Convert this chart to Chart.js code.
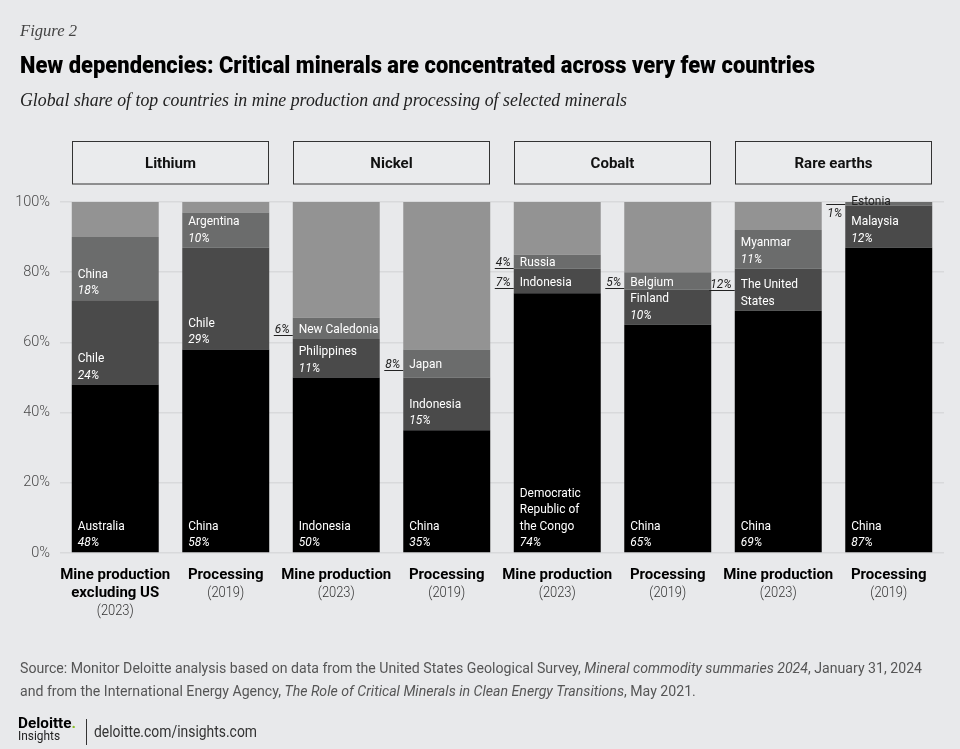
<!DOCTYPE html>
<html>
<head>
<meta charset="utf-8">
<script src="https://cdn.jsdelivr.net/npm/chart.js@4"></script>
<style>
html,body{margin:0;padding:0;background:#e8e9eb;}
canvas{display:block;}
</style>
</head>
<body>
<canvas id="c" width="960" height="749" style="width:960px;height:749px"></canvas>
<script>
// ---------- DATA ----------
const categories = [
  "Lithium mine production excluding US (2023)", "Lithium processing (2019)",
  "Nickel mine production (2023)", "Nickel processing (2019)",
  "Cobalt mine production (2023)", "Cobalt processing (2019)",
  "Rare earths mine production (2023)", "Rare earths processing (2019)"
];
const minerals = ["Lithium", "Nickel", "Cobalt", "Rare earths"];
const xLabelMain = [
  ["Mine production", "excluding US"], ["Processing"],
  ["Mine production"], ["Processing"],
  ["Mine production"], ["Processing"],
  ["Mine production"], ["Processing"]
];
const xLabelYear = ["(2023)", "(2019)", "(2023)", "(2019)", "(2023)", "(2019)", "(2023)", "(2019)"];

const top1Share  = [48, 58, 50, 35, 74, 65, 69, 87];
const top2Share  = [24, 29, 11, 15, 7, 10, 12, 12];
const top3Share  = [18, 10, 6, 8, 4, 5, 11, 1];
const otherShare = [10, 3, 33, 42, 15, 20, 8, 0];

const top1Names = ["Australia", "China", "Indonesia", "China", "Democratic\nRepublic of\nthe Congo", "China", "China", "China"];
const top2Names = ["Chile", "Chile", "Philippines", "Indonesia", "Indonesia", "Finland", "The United\nStates", "Malaysia"];
const top3Names = ["China", "Argentina", "New Caledonia", "Japan", "Russia", "Belgium", "Myanmar", "Estonia"];

const yTickValues = [0, 20, 40, 60, 80, 100];

const figureLabel = "Figure 2";
const titleText = "New dependencies: Critical minerals are concentrated across very few countries";
const subtitleText = "Global share of top countries in mine production and processing of selected minerals";
const sourceLine1 = [
  ["Source: Monitor Deloitte analysis based on data from the United States Geological Survey, ", false],
  ["Mineral commodity summaries 2024", true],
  [", January 31, 2024", false]
];
const sourceLine2 = [
  ["and from the International Energy Agency, ", false],
  ["The Role of Critical Minerals in Clean Energy Transitions", true],
  [", May 2021.", false]
];
const footerUrl = "deloitte.com/insights.com";

// ---------- STYLE ----------
const BG = '#e8e9eb';
const SANS = 'Roboto, "Liberation Sans", Arial, sans-serif';
const SERIF = '"Liberation Serif", "DejaVu Serif", serif';
const COLORS = ['#000000', '#4a4a4a', '#6b6c6c', '#939393'];

function measure(ctx, s, font) {
  ctx.save(); ctx.font = font; const w = ctx.measureText(s).width; ctx.restore(); return w;
}
function fitScale(ctx, s, font, w) { return w / measure(ctx, s, font); }
function drawText(ctx, s, x, y, font, color, align, sx) {
  ctx.save();
  ctx.font = font; ctx.fillStyle = color;
  ctx.textAlign = align || 'left'; ctx.textBaseline = 'alphabetic';
  ctx.translate(x, y); ctx.scale(sx || 1, 1);
  ctx.fillText(s, 0, 0);
  ctx.restore();
}
function runsWidth(ctx, runs, fReg, fIt) {
  return runs.reduce((a, r) => a + measure(ctx, r[0], r[1] ? fIt : fReg), 0);
}
function drawRuns(ctx, runs, x, y, fReg, fIt, color, sx) {
  let cx = x;
  runs.forEach(r => {
    const f = r[1] ? fIt : fReg;
    drawText(ctx, r[0], cx, y, f, color, 'left', sx);
    cx += measure(ctx, r[0], f) * sx;
  });
}
function hline(ctx, x1, x2, y, color) {
  ctx.save(); ctx.strokeStyle = color; ctx.lineWidth = 1;
  ctx.beginPath(); ctx.moveTo(x1, y); ctx.lineTo(x2, y); ctx.stroke(); ctx.restore();
}

const decor = {
  id: 'decor',
  beforeDraw(chart) {
    const ctx = chart.ctx;
    ctx.save(); ctx.fillStyle = BG; ctx.fillRect(0, 0, chart.width, chart.height); ctx.restore();

    const fFig = `italic 17px ${SERIF}`;
    drawText(ctx, figureLabel, 20, 36, fFig, '#444', 'left', fitScale(ctx, figureLabel, fFig, 57));
    const fTitle = `900 24px ${SANS}`;
    drawText(ctx, titleText, 20, 72.5, fTitle, '#000', 'left', fitScale(ctx, titleText, fTitle, 795));
    const fSub = `italic 18px ${SERIF}`;
    drawText(ctx, subtitleText, 20, 105.5, fSub, '#222', 'left', fitScale(ctx, subtitleText, fSub, 607));

    // Mineral header boxes spanning each pair of bars
    const meta = chart.getDatasetMeta(0);
    minerals.forEach((m, g) => {
      const a = meta.data[2 * g], b = meta.data[2 * g + 1];
      if (!a || !b) return;
      const x1 = Math.round(a.x - a.width / 2) + 0.5, x2 = Math.round(b.x + b.width / 2) - 0.5;
      ctx.save();
      ctx.fillStyle = '#eaebed';
      ctx.fillRect(x1, 141.5, x2 - x1, 42.5);
      ctx.strokeStyle = '#333'; ctx.lineWidth = 1;
      ctx.strokeRect(x1, 141.5, x2 - x1, 42.5);
      ctx.restore();
      drawText(ctx, m, (x1 + x2) / 2, 167.5, `bold 15px ${SANS}`, '#111', 'center', 1);
    });

    // Source
    const fReg = `15px ${SANS}`, fIt = `italic 15px ${SANS}`;
    const sx = 902 / runsWidth(ctx, sourceLine1, fReg, fIt);
    drawRuns(ctx, sourceLine1, 20, 673, fReg, fIt, '#555', sx);
    drawRuns(ctx, sourceLine2, 20, 696, fReg, fIt, '#555', sx);

    // Footer logo
    const fLogo = `bold 14px ${SANS}`;
    const lsx = fitScale(ctx, 'Deloitte.', fLogo, 58);
    drawText(ctx, 'Deloitte', 18, 728, fLogo, '#000', 'left', lsx);
    const dw = measure(ctx, 'Deloitte', fLogo) * lsx;
    drawText(ctx, '.', 18 + dw, 728, fLogo, '#86bc25', 'left', lsx);
    const fIns = `13px ${SANS}`;
    drawText(ctx, 'Insights', 18, 740, fIns, '#222', 'left', fitScale(ctx, 'Insights', fIns, 42));
    ctx.save(); ctx.strokeStyle = '#333'; ctx.lineWidth = 1;
    ctx.beginPath(); ctx.moveTo(86.5, 719); ctx.lineTo(86.5, 745); ctx.stroke(); ctx.restore();
    const fUrl = `17px ${SANS}`;
    drawText(ctx, footerUrl, 94, 737, fUrl, '#333', 'left', fitScale(ctx, footerUrl, fUrl, 163));
  },
  afterDatasetsDraw(chart) {
    const ctx = chart.ctx;
    const namesByDs = [top1Names, top2Names, top3Names];
    const fName = `13px ${SANS}`, fPct = `italic 13px ${SANS}`;
    const sx = fitScale(ctx, 'Australia', fName, 47);
    const LH = 16.5;
    for (let d = 0; d < 3; d++) {
      const meta = chart.getDatasetMeta(d);
      meta.data.forEach((el, i) => {
        const v = chart.data.datasets[d].data[i];
        if (!v) return;
        const lines = namesByDs[d][i].split('\n');
        const pct = v + '%';
        const left = el.x - el.width / 2;
        const top = Math.min(el.y, el.base), bot = Math.max(el.y, el.base);
        const h = bot - top;
        const n = lines.length;
        if (h < 10) {
          // tiny segment: name above bar, percentage with overline to the left
          drawText(ctx, lines[0], left + 6, top + 2.5, fName, '#222', 'left', sx);
          const pw = measure(ctx, pct, fPct) * sx;
          drawText(ctx, pct, left - 3, top + 15, fPct, '#222', 'right', sx);
          hline(ctx, left - 4 - pw, left, Math.round(top + 2) + 0.5, '#222');
        } else if ((n + 1) * 16 > h + 2) {
          // small segment: name centred inside, percentage outside left, underlined
          const center = (top + bot) / 2;
          const b0 = center + 4.6 - (n - 1) * 6;
          lines.forEach((s, j) => drawText(ctx, s, left + 6, b0 + j * LH, fName, '#fff', 'left', sx));
          const pw = measure(ctx, pct, fPct) * sx;
          drawText(ctx, pct, left - 3, b0, fPct, '#222', 'right', sx);
          hline(ctx, left - 4 - pw, left, Math.round(b0 + 2) + 0.5, '#222');
        } else {
          // regular: name + pct anchored at bottom of segment
          const pb = bot - 6;
          lines.forEach((s, j) => drawText(ctx, s, left + 6, pb - (n - j) * LH, fName, '#fff', 'left', sx));
          drawText(ctx, pct, left + 6, pb, fPct, '#fff', 'left', sx);
        }
      });
    }
  },
  afterDraw(chart) {
    const ctx = chart.ctx;
    const xs = chart.scales.x;
    const fMain = `bold 15.5px ${SANS}`, fYear = `300 14px ${SANS}`;
    const msx = fitScale(ctx, 'Mine production', fMain, 110);
    const ysx = fitScale(ctx, '(2023)', fYear, 37);
    categories.forEach((c, i) => {
      const x = xs.getPixelForValue(i);
      const main = xLabelMain[i];
      main.forEach((s, j) => drawText(ctx, s, x, 579 + j * 18, fMain, '#000', 'center', msx));
      drawText(ctx, xLabelYear[i], x, 579 + main.length * 18 - 0.5, fYear, '#333', 'center', ysx);
    });
  }
};

new Chart(document.getElementById('c'), {
  type: 'bar',
  data: {
    labels: categories,
    datasets: [
      { label: 'Top country', data: top1Share, backgroundColor: COLORS[0] },
      { label: 'Second country', data: top2Share, backgroundColor: COLORS[1] },
      { label: 'Third country', data: top3Share, backgroundColor: COLORS[2] },
      { label: 'Rest of world', data: otherShare, backgroundColor: COLORS[3] }
    ].map(ds => Object.assign(ds, { borderWidth: 0, barPercentage: 0.787, categoryPercentage: 1, stack: 's' }))
  },
  options: {
    responsive: false,
    animation: false,
    events: [],
    layout: { padding: { top: 202, right: 16, left: 0, bottom: 0 } },
    plugins: { legend: { display: false }, tooltip: { enabled: false }, title: { display: false } },
    scales: {
      x: {
        stacked: true,
        grid: { display: false },
        border: { display: false },
        ticks: { display: false },
        afterFit(s) { s.height = 196; }
      },
      y: {
        stacked: true,
        min: 0, max: 100,
        afterBuildTicks(s) { s.ticks = yTickValues.map(v => ({ value: v })); },
        ticks: {
          callback: v => v + '%',
          color: '#4a4a4a',
          font: { family: 'Roboto', size: 14.5, weight: '300' },
          padding: 10
        },
        grid: { color: '#d8d9db', lineWidth: 1.5, drawTicks: false },
        border: { display: false },
        afterFit(s) { s.width = 60; }
      }
    }
  },
  plugins: [decor]
});
</script>
</body>
</html>
